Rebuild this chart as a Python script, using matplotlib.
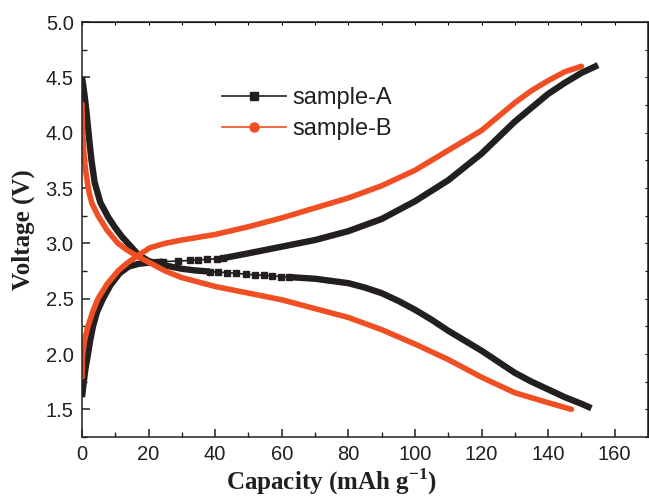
import matplotlib
matplotlib.use('Agg')
import matplotlib.pyplot as plt
from matplotlib.lines import Line2D
from matplotlib.ticker import MultipleLocator, FormatStrFormatter

#
# DATA
#

# sample-A, discharge branch
a_dis_cap = [0, 0.4, 0.8, 1.3, 1.8, 2.3, 2.8, 3.8, 5.5, 7.8, 10, 12, 13.8, 16.8, 20, 25, 30, 34, 38.4,
             40.8, 43.7, 46.4, 49.4, 52.1, 54.8, 57.2, 59.9, 62.3,
             70, 80, 85, 90, 95, 100, 105, 110, 115, 120, 125, 130, 135, 140, 145, 150, 153]
a_dis_volt = [4.5, 4.42, 4.33, 4.2, 4.05, 3.9, 3.76, 3.55, 3.37, 3.24, 3.14, 3.06, 3.0, 2.9, 2.84, 2.8, 2.77, 2.755, 2.745,
              2.74, 2.735, 2.73, 2.72, 2.715, 2.71, 2.705, 2.7, 2.695,
              2.68, 2.64, 2.6, 2.55, 2.48, 2.4, 2.31, 2.21, 2.12, 2.03, 1.93, 1.83, 1.75, 1.68, 1.61, 1.55, 1.51]

# sample-A, charge branch
a_chg_cap = [0, 0.5, 1, 1.8, 2.5, 3.3, 4.5, 6.3, 8.5, 11.3, 14, 17, 20, 24.3,
             28.8, 32.4, 34.8, 37.5, 40.4,
             42.2, 50, 60, 70, 80, 90, 100, 110, 120, 130, 140, 145, 150, 155]
a_chg_volt = [1.61, 1.74, 1.86, 2.0, 2.13, 2.25, 2.38, 2.5, 2.62, 2.73, 2.79, 2.815, 2.825, 2.835,
              2.84, 2.845, 2.85, 2.855, 2.86,
              2.865, 2.91, 2.97, 3.03, 3.11, 3.22, 3.38, 3.57, 3.81, 4.1, 4.35, 4.45, 4.54, 4.61]

# sample-B, discharge branch
b_dis_cap = [0, 0.2, 0.6, 1.0, 1.6, 2.2, 3, 4.8, 7.5, 10.8, 13.5, 16.8, 20, 25, 30, 40, 50, 60, 70, 80,
             90, 100, 110, 120, 130, 140, 147]
b_dis_volt = [4.26, 4.0, 3.8, 3.68, 3.55, 3.45, 3.36, 3.25, 3.12, 3.0, 2.94, 2.88, 2.83, 2.75, 2.69, 2.61, 2.55, 2.49, 2.41, 2.33,
              2.22, 2.09, 1.95, 1.79, 1.65, 1.56, 1.5]

# sample-B, charge branch
b_chg_cap = [0, 0.2, 0.8, 1.8, 3.2, 4.8, 7.5, 10.8, 13.5, 16.8, 20.4, 25, 30, 40, 50, 60, 70, 80,
             90, 100, 110, 120, 130, 135, 140, 145, 150]
b_chg_volt = [1.79, 2.0, 2.13, 2.25, 2.38, 2.5, 2.63, 2.75, 2.82, 2.89, 2.96, 3.0, 3.03, 3.08, 3.15, 3.23, 3.32, 3.41,
              3.52, 3.66, 3.84, 4.02, 4.27, 4.38, 4.47, 4.55, 4.6]

# capacity range where the sample-A markers are seen one by one
a_chg_sparse = (24.3, 42.2)
a_dis_sparse = (38.4, 62.3)

labels = ['sample-A', 'sample-B']
colors = ['#231f20', '#f04e23']


#
# HELPER
#

def plot_branch(ax, cap, volt, color, sparse=None):
    """
    Thick line for the dense part of a branch, thin line with square markers where
    the single points can be seen.
    """
    kw = dict(color=color, lw=4.6, solid_capstyle='butt', solid_joinstyle='round')
    if sparse is None:
        ax.plot(cap, volt, **kw)
        return
    i0 = cap.index(sparse[0])
    i1 = cap.index(sparse[1])
    ax.plot(cap[:i0 + 1], volt[:i0 + 1], **kw)
    ax.plot(cap[i1:], volt[i1:], **kw)
    ax.plot(cap[i0:i1 + 1], volt[i0:i1 + 1], color=color, lw=1.2, marker='s',
            markersize=4.2)


#
# PLOT
#

plt.rcParams['font.family'] = ['Liberation Sans', 'DejaVu Sans']
plt.rcParams['mathtext.fontset'] = 'custom'
plt.rcParams['mathtext.rm'] = 'Liberation Serif:bold'
plt.rcParams['mathtext.bf'] = 'Liberation Serif:bold'

fig = plt.figure(figsize=(6.49, 4.96), dpi=100)
ax = fig.add_axes([82 / 649, 59 / 496, 566 / 649, 415 / 496])

plot_branch(ax, a_dis_cap, a_dis_volt, colors[0], a_dis_sparse)
plot_branch(ax, a_chg_cap, a_chg_volt, colors[0], a_chg_sparse)
ax.plot(b_dis_cap, b_dis_volt, color=colors[1], lw=4.0, solid_capstyle='round', solid_joinstyle='round')
ax.plot(b_chg_cap, b_chg_volt, color=colors[1], lw=4.0, solid_capstyle='round', solid_joinstyle='round')

ax.set_xlim(0, 170)
ax.set_ylim(1.25, 5.0)
ax.xaxis.set_major_locator(MultipleLocator(20))
ax.xaxis.set_minor_locator(MultipleLocator(10))
ax.yaxis.set_major_locator(MultipleLocator(0.5))
ax.yaxis.set_minor_locator(MultipleLocator(0.25))
ax.yaxis.set_major_formatter(FormatStrFormatter('%.1f'))

for sp in ax.spines.values():
    sp.set_linewidth(1.1)
    sp.set_color('#231f20')

ax.tick_params(which='major', direction='in', length=6, width=1.1, labelsize=14.5,
               pad=6, colors='#231f20')
ax.tick_params(which='minor', direction='in', length=3.5, width=1.0, colors='#231f20')

# tiny ticks on top / right
sec_x = ax.secondary_xaxis('top')
sec_x.xaxis.set_major_locator(MultipleLocator(10))
sec_x.tick_params(direction='in', length=2, width=0.8, labeltop=False)
sec_y = ax.secondary_yaxis('right')
sec_y.yaxis.set_major_locator(MultipleLocator(0.25))
sec_y.tick_params(direction='in', length=2, width=0.8, labelright=False)

ax.set_xlabel('Capacity (mAh g$^{-1}$)', fontsize=18, fontweight='bold',
              family='Liberation Serif', va='top', color='#231f20')
ax.xaxis.set_label_coords(0.44, -0.07)
ax.set_ylabel('Voltage (V)', fontsize=18, fontweight='bold',
              family='Liberation Serif', va='center', color='#231f20')
ax.yaxis.set_label_coords(-0.104, 0.5)

handles = [Line2D([], [], color=colors[0], lw=1.2, marker='s', markersize=6),
           Line2D([], [], color=colors[1], lw=1.2, marker='o', markersize=6.5)]
fig.legend(handles, labels, loc='upper left', bbox_to_anchor=(222 / 649, 1 - 87 / 496),
           frameon=False, fontsize=17, handlelength=2.7, handletextpad=0.3,
           labelspacing=0.38, borderpad=0, borderaxespad=0, labelcolor='#231f20')

fig.savefig('out.png', dpi=100)
